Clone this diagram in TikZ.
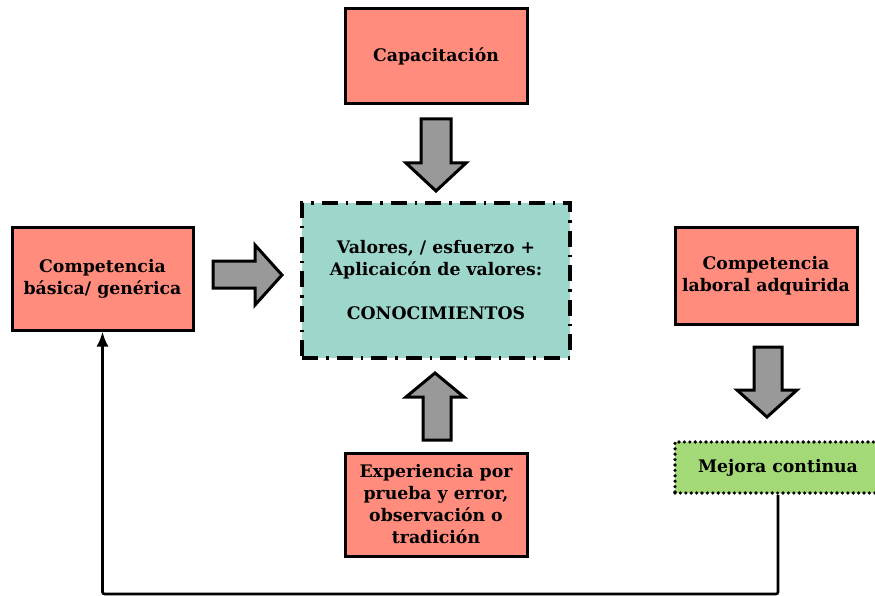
\documentclass[tikz,border=0pt]{standalone}
\usepackage{fontspec}
\setmainfont{DejaVu Serif}
\usetikzlibrary{arrows.meta}
\definecolor{salmon}{HTML}{FF8C7D}
\definecolor{teal}{HTML}{9DD6CA}
\definecolor{lgreen}{HTML}{A3D977}
\definecolor{agray}{HTML}{999999}
\tikzset{
  box/.style={draw=black, line width=3pt, fill=salmon, align=center, inner sep=0pt,
    font=\bfseries\fontsize{17.3}{22}\selectfont},
  centerbox/.style={box, fill=teal, line width=3.2pt, dash pattern=on 16pt off 8pt on 2.5pt off 8pt},
  mejbox/.style={box, fill=lgreen, line width=3.6pt, line cap=round, dash pattern=on 0pt off 5.4pt},
  blockarrow/.style={draw=black, line width=3pt, fill=agray, line join=miter},
  feedback/.style={draw=black, line width=2.6pt, rounded corners=2pt, -{Latex[length=15pt,width=12pt]}}
}
\begin{document}
\begin{tikzpicture}[x=1pt,y=-1pt]
\useasboundingbox (0,0) rectangle (875,596);
% nodes
\node[box, minimum width=182, minimum height=95] (cap) at (436,56.5) {Capacitación};
\node[centerbox, minimum width=268, minimum height=155] (ctr) at (436,280.5)
  {Valores, / esfuerzo +\\Aplicaicón de valores:\\[22pt]CONOCIMIENTOS};
\node[box, minimum width=181, minimum height=103] (left) at (102.5,278.5) {Competencia\\básica/ genérica};
\node[box, minimum width=182, minimum height=97] (right) at (766,275.5) {Competencia\\laboral adquirida};
\node[box, minimum width=182, minimum height=103] (exp) at (436,504.5)
  {Experiencia por\\prueba y error,\\observación o\\tradición};
\begin{scope}
\clip (0,0) rectangle (875,596);
\node[mejbox, minimum width=206, minimum height=51] (mej) at (778,467.5) {Mejora continua};
\end{scope}
% block arrows
\draw[blockarrow] (421,119) -- (451,119) -- (451,163) -- (466,163) -- (436,191) -- (406,163) -- (421,163) -- cycle;
\draw[blockarrow] (213,261) -- (255,261) -- (255,245) -- (282,275) -- (255,305) -- (255,288) -- (213,288) -- cycle;
\draw[blockarrow] (423,440) -- (451,440) -- (451,397) -- (464,397) -- (435,373) -- (406,397) -- (423,397) -- cycle;
\draw[blockarrow] (754,347) -- (782,347) -- (782,390) -- (797,390) -- (767,417) -- (737,390) -- (754,390) -- cycle;
% feedback connector
\coordinate (bot) at (440,594);
\draw[feedback] (mej.south) |- (bot) -| (left.south);
\end{tikzpicture}
\end{document}
